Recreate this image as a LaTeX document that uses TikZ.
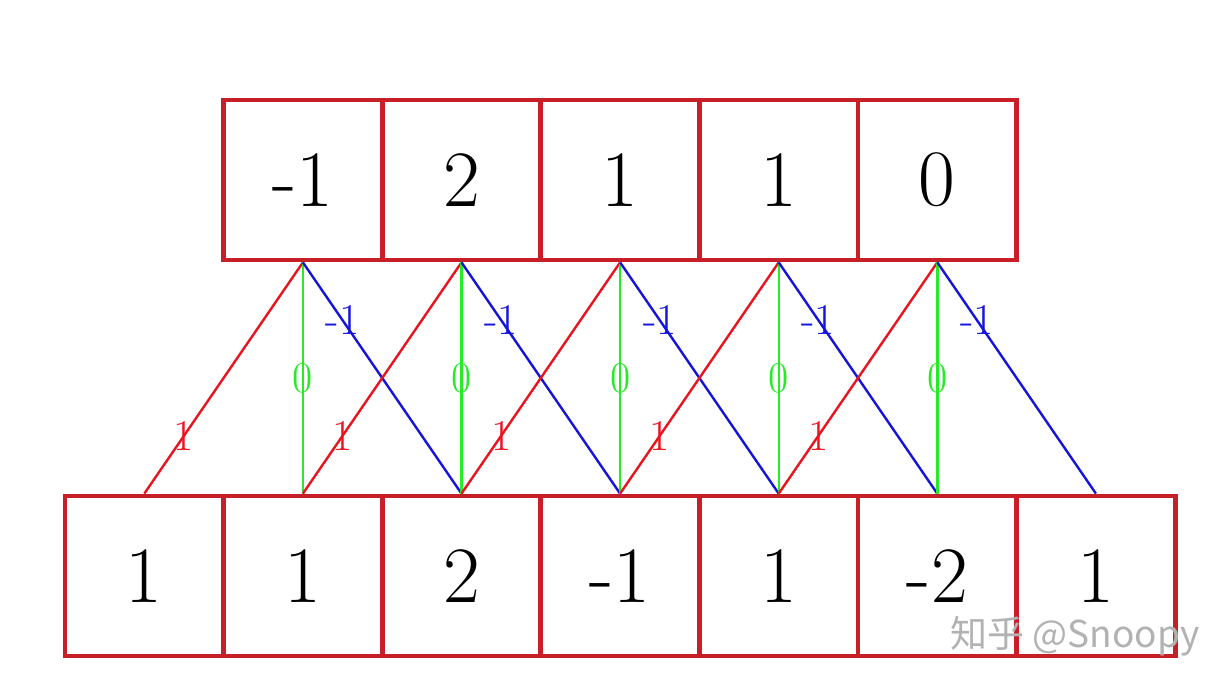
\documentclass[tikz,border=0pt]{standalone}
\usepackage{fontspec}
\newfontfamily\cjkfont{Noto Sans CJK SC}
\definecolor{boxred}{RGB}{200,30,40}
\definecolor{lred}{RGB}{235,20,30}
\definecolor{lgreen}{RGB}{40,235,40}
\definecolor{lblue}{RGB}{20,20,220}
\begin{document}
\begin{tikzpicture}[x=0.5pt,y=-0.5pt,
  cell/.style={draw=boxred,line width=2.4pt,minimum width=79.3pt,minimum height=80pt,inner sep=0pt,font=\fontsize{40}{44}\selectfont},
  lab/.style={font=\fontsize{22}{24}\selectfont,inner sep=0pt},
  redline/.style={draw=lred,line width=1.2pt},
  greenline/.style={draw=lgreen,line width=1.2pt},
  blueline/.style={draw=lblue,line width=1.2pt}]
\useasboundingbox (0,0) rectangle (1230,688);
% bottom row
\foreach \v [count=\j from 0] in {1,1,2,-1,1,-2,1}{
  \node[cell] (b\j) at ({65+158.6*(\j+0.5)},576) {\v};
}
% top row
\foreach \v [count=\i from 0] in {-1,2,1,1,0}{
  \node[cell] (t\i) at ({65+158.6*(\i+1.5)},180) {\v};
}
% connectors
\foreach \i in {0,...,4}{
  \pgfmathtruncatemacro{\g}{\i+1}
  \pgfmathtruncatemacro{\b}{\i+2}
  \draw[redline] (t\i.south) -- node[lab,pos=0.75,text=lred]{1} (b\i.north);
  \draw[greenline] (t\i.south) -- node[lab,pos=0.5,text=lgreen]{0} (b\g.north);
  \draw[blueline] (t\i.south) -- node[lab,pos=0.25,text=lblue]{-1} (b\b.north);
}
% watermark
\node[anchor=west,text=black!30,font=\cjkfont\fontsize{18.5}{22}\selectfont,inner sep=0pt] (wm) at (950,636) {知乎 @Snoopy};
\end{tikzpicture}
\end{document}
